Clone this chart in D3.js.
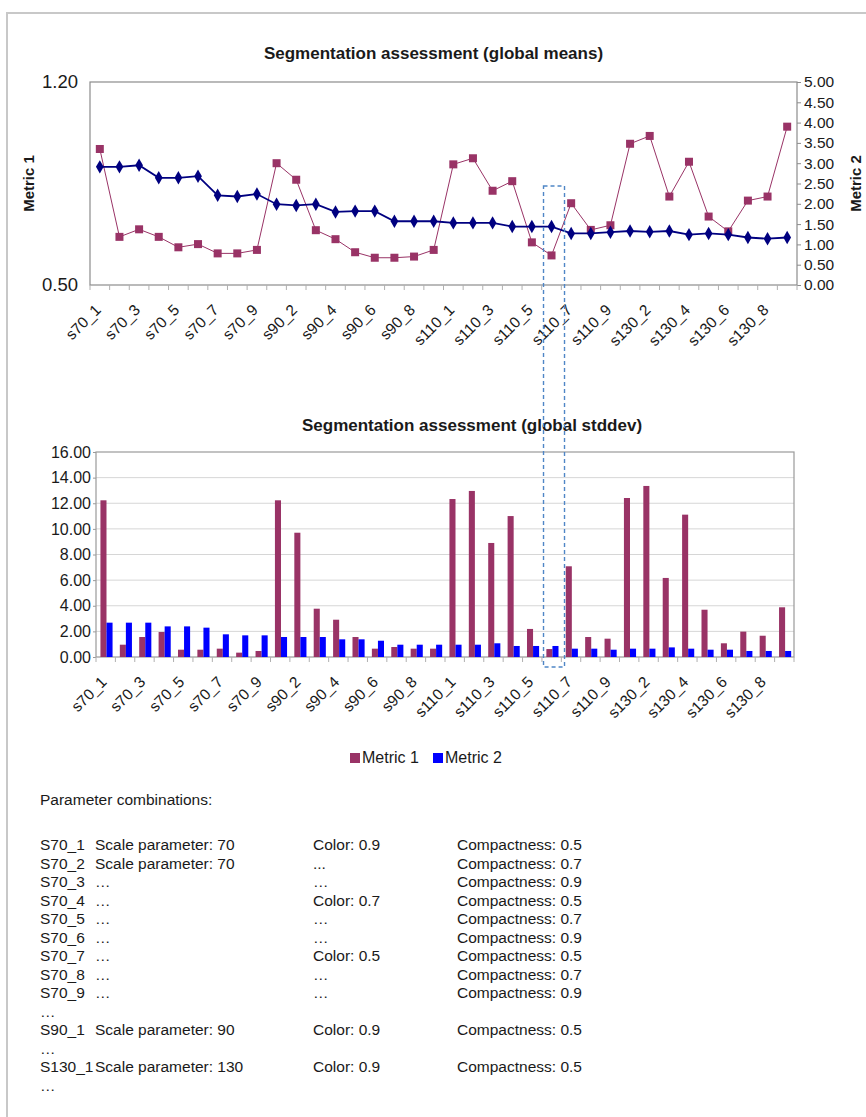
<!DOCTYPE html>
<html>
<head>
<meta charset="utf-8">
<script src="https://cdn.jsdelivr.net/npm/d3@7"></script>
<style>
  body { margin: 0; background: #fff; }
  svg { display: block; }
  text { font-family: Arial, "Liberation Sans", sans-serif; fill: #1a1a1a; }
</style>
</head>
<body>
<svg id="chart"></svg>
<script>
const categories = [
  "s70_1", "s70_2", "s70_3", "s70_4", "s70_5", "s70_6", "s70_7", "s70_8", "s70_9",
  "s90_1", "s90_2", "s90_3", "s90_4", "s90_5", "s90_6", "s90_7", "s90_8", "s90_9",
  "s110_1", "s110_2", "s110_3", "s110_4", "s110_5", "s110_6", "s110_7", "s110_8", "s110_9",
  "s130_1", "s130_2", "s130_3", "s130_4", "s130_5", "s130_6", "s130_7", "s130_8", "s130_9"
];
const highlighted = "s110_6";

// global means: Metric 1 on the left axis, Metric 2 on the right axis
const meansMetric1 = [
  0.969, 0.666, 0.692, 0.666, 0.630, 0.641, 0.609, 0.609, 0.621,
  0.920, 0.863, 0.689, 0.658, 0.613, 0.594, 0.594, 0.598, 0.621,
  0.916, 0.937, 0.825, 0.858, 0.647, 0.602, 0.782, 0.690, 0.706,
  0.987, 1.014, 0.805, 0.925, 0.736, 0.685, 0.791, 0.805, 1.046
];
const meansMetric2 = [
  2.91, 2.91, 2.95, 2.64, 2.64, 2.68, 2.21, 2.18, 2.24,
  1.99, 1.96, 1.99, 1.80, 1.82, 1.82, 1.57, 1.57, 1.57,
  1.53, 1.53, 1.53, 1.44, 1.44, 1.44, 1.27, 1.27, 1.30,
  1.33, 1.31, 1.33, 1.24, 1.27, 1.24, 1.17, 1.14, 1.17
];

// global stddev
const stddevMetric1 = [
  12.23, 0.96, 1.56, 1.95, 0.57, 0.57, 0.65, 0.34, 0.47,
  12.23, 9.70, 3.77, 2.91, 1.56, 0.65, 0.78, 0.65, 0.65,
  12.33, 12.96, 8.90, 11.00, 2.19, 0.62, 7.08, 1.56, 1.43,
  12.41, 13.35, 6.17, 11.11, 3.69, 1.07, 1.98, 1.66, 3.88
];
const stddevMetric2 = [
  2.68, 2.68, 2.68, 2.39, 2.39, 2.29, 1.77, 1.69, 1.69,
  1.56, 1.56, 1.56, 1.38, 1.38, 1.27, 0.96, 0.96, 0.96,
  0.96, 0.96, 1.07, 0.86, 0.86, 0.86, 0.65, 0.65, 0.57,
  0.65, 0.65, 0.75, 0.65, 0.57, 0.57, 0.47, 0.47, 0.47
];

const leftTicks = [0.5, 1.2];
const rightTicks = [0, 0.5, 1, 1.5, 2, 2.5, 3, 3.5, 4, 4.5, 5];
const stddevTicks = [0, 2, 4, 6, 8, 10, 12, 14, 16];
const seriesNames = ["Metric 1", "Metric 2"];
const titles = ["Segmentation assessment (global means)", "Segmentation assessment (global stddev)"];

const paramHeading = "Parameter combinations:";
const paramRows = [
  ["S70_1", "Scale parameter: 70", "Color: 0.9", "Compactness: 0.5"],
  ["S70_2", "Scale parameter: 70", "...", "Compactness: 0.7"],
  ["S70_3", "\u2026", "\u2026", "Compactness: 0.9"],
  ["S70_4", "\u2026", "Color: 0.7", "Compactness: 0.5"],
  ["S70_5", "\u2026", "\u2026", "Compactness: 0.7"],
  ["S70_6", "\u2026", "\u2026", "Compactness: 0.9"],
  ["S70_7", "\u2026", "Color: 0.5", "Compactness: 0.5"],
  ["S70_8", "\u2026", "\u2026", "Compactness: 0.7"],
  ["S70_9", "\u2026", "\u2026", "Compactness: 0.9"],
  ["\u2026"],
  ["S90_1", "Scale parameter: 90", "Color: 0.9", "Compactness: 0.5"],
  ["\u2026"],
  ["S130_1", "Scale parameter: 130", "Color: 0.9", "Compactness: 0.5"],
  ["\u2026"]
];

const maroon = "#993366";
const navy = "#000080";
const blue = "#0000ff";

const width = 866;
const height = 1117;
const top1 = { left: 90, right: 797, top: 82, bottom: 285 };
const top2 = { left: 96, right: 794, top: 452, bottom: 657 };

const svg = d3.select("#chart").attr("width", width).attr("height", height);

svg.append("rect")
  .attr("x", 7).attr("y", 13)
  .attr("width", width + 10).attr("height", height + 10)
  .attr("fill", "#fff")
  .attr("stroke", "#c8c8c8")
  .attr("stroke-width", 2);

function appendCategoryTicks(g, x, box) {
  const edges = categories.map((c) => x(c)).concat([x.range()[1]]);
  g.append("g")
    .selectAll("line")
    .data(edges)
    .join("line")
    .attr("x1", (d) => d).attr("x2", (d) => d)
    .attr("y1", box.bottom).attr("y2", box.bottom + 5)
    .attr("stroke", "#b0b0b0");

  g.append("g")
    .selectAll("text")
    .data(categories.filter((_, i) => i % 2 === 0))
    .join("text")
    .attr("transform", (d) => `translate(${x(d) + x.bandwidth() / 2 + 2}, ${box.bottom + 26}) rotate(-45)`)
    .attr("text-anchor", "end")
    .attr("font-size", 15.5)
    .text((d) => d);
}

// ---------- chart 1: global means ----------
const g1 = svg.append("g");
const x1 = d3.scaleBand().domain(categories).range([top1.left, top1.right]);
const yLeft = d3.scaleLinear().domain([0.5, 1.2]).range([top1.bottom, top1.top]);
const yRight = d3.scaleLinear().domain([0, 5]).range([top1.bottom, top1.top]);
const cx1 = (c) => x1(c) + x1.bandwidth() / 2;

g1.append("rect")
  .attr("x", top1.left).attr("y", top1.top)
  .attr("width", top1.right - top1.left).attr("height", top1.bottom - top1.top)
  .attr("fill", "none").attr("stroke", "#8c8c8c").attr("stroke-width", 1.2);

g1.append("text")
  .attr("x", (top1.left + top1.right) / 2 - 10).attr("y", 59)
  .attr("text-anchor", "middle")
  .attr("font-size", 17).attr("font-weight", "bold")
  .text(titles[0]);

g1.append("g")
  .attr("transform", `translate(${top1.left},0)`)
  .call(d3.axisLeft(yLeft).tickValues(leftTicks).tickFormat(d3.format(".2f")).tickSize(0).tickPadding(12))
  .call((a) => a.select(".domain").remove())
  .call((a) => a.selectAll("text").attr("font-size", 18.5).attr("font-family", null));

g1.append("g")
  .attr("transform", `translate(${top1.right},0)`)
  .call(d3.axisRight(yRight).tickValues(rightTicks).tickFormat(d3.format(".2f")).tickSize(4).tickPadding(3))
  .call((a) => a.select(".domain").remove())
  .call((a) => a.selectAll("line").attr("stroke", "#8c8c8c"))
  .call((a) => a.selectAll("text").attr("font-size", 15.5).attr("font-family", null));

g1.append("text")
  .attr("transform", `translate(34, ${(top1.top + top1.bottom) / 2}) rotate(-90)`)
  .attr("text-anchor", "middle")
  .attr("font-size", 15).attr("font-weight", "bold")
  .text(seriesNames[0]);

g1.append("text")
  .attr("transform", `translate(861, ${(top1.top + top1.bottom) / 2}) rotate(-90)`)
  .attr("text-anchor", "middle")
  .attr("font-size", 15).attr("font-weight", "bold")
  .text(seriesNames[1]);

appendCategoryTicks(g1, x1, top1);

const line1 = d3.line().x((d, i) => cx1(categories[i])).y((d) => yLeft(d));
const line2 = d3.line().x((d, i) => cx1(categories[i])).y((d) => yRight(d));

g1.append("path")
  .attr("d", line1(meansMetric1))
  .attr("fill", "none").attr("stroke", maroon).attr("stroke-width", 1);

g1.append("g")
  .selectAll("rect")
  .data(meansMetric1)
  .join("rect")
  .attr("x", (d, i) => cx1(categories[i]) - 4)
  .attr("y", (d) => yLeft(d) - 4)
  .attr("width", 8).attr("height", 8)
  .attr("fill", maroon);

g1.append("path")
  .attr("d", line2(meansMetric2))
  .attr("fill", "none").attr("stroke", navy).attr("stroke-width", 1.8);

g1.append("g")
  .selectAll("path")
  .data(meansMetric2)
  .join("path")
  .attr("d", d3.symbol().type(d3.symbolDiamond).size(52))
  .attr("transform", (d, i) => `translate(${cx1(categories[i])},${yRight(d)})`)
  .attr("fill", navy);

// ---------- chart 2: global stddev ----------
const g2 = svg.append("g");
const x2 = d3.scaleBand().domain(categories).range([top2.left, top2.right]);
const xInner = d3.scaleBand().domain(seriesNames).range([0, x2.bandwidth()]).paddingOuter(0.6);
const y2 = d3.scaleLinear().domain([0, 16]).range([top2.bottom, top2.top]);

g2.append("g")
  .selectAll("line")
  .data(stddevTicks.slice(1, -1))
  .join("line")
  .attr("x1", top2.left).attr("x2", top2.right)
  .attr("y1", (d) => y2(d)).attr("y2", (d) => y2(d))
  .attr("stroke", "#d6d6d6");

g2.append("rect")
  .attr("x", top2.left).attr("y", top2.top)
  .attr("width", top2.right - top2.left).attr("height", top2.bottom - top2.top)
  .attr("fill", "none").attr("stroke", "#9a9a9a").attr("stroke-width", 1.2);

g2.append("text")
  .attr("x", 472).attr("y", 431)
  .attr("text-anchor", "middle")
  .attr("font-size", 17).attr("font-weight", "bold")
  .text(titles[1]);

g2.append("g")
  .attr("transform", `translate(${top2.left},0)`)
  .call(d3.axisLeft(y2).tickValues(stddevTicks).tickFormat(d3.format(".2f")).tickSize(3).tickPadding(2))
  .call((a) => a.select(".domain").remove())
  .call((a) => a.selectAll("line").attr("stroke", "#9a9a9a"))
  .call((a) => a.selectAll("text").attr("font-size", 16).attr("font-family", null));

const barData = categories.flatMap((c, i) => [
  { cat: c, key: seriesNames[0], value: stddevMetric1[i], color: maroon },
  { cat: c, key: seriesNames[1], value: stddevMetric2[i], color: blue }
]);

g2.append("g")
  .selectAll("rect")
  .data(barData)
  .join("rect")
  .attr("x", (d) => x2(d.cat) + xInner(d.key) + 0.8)
  .attr("y", (d) => y2(d.value))
  .attr("width", xInner.bandwidth())
  .attr("height", (d) => y2(0) - y2(d.value))
  .attr("fill", (d) => d.color);

appendCategoryTicks(g2, x2, top2);

// legend
const legend = g2.append("g").attr("transform", "translate(350,753)");
const legendItem = legend.selectAll("g")
  .data(seriesNames)
  .join("g")
  .attr("transform", (d, i) => `translate(${i * 83},0)`);
legendItem.append("rect")
  .attr("width", 10).attr("height", 10)
  .attr("fill", (d, i) => (i === 0 ? maroon : blue));
legendItem.append("text")
  .attr("x", 12).attr("y", 10)
  .attr("font-size", 16)
  .text((d) => d);

// dashed highlight across both charts
const hx = x1(highlighted) + x1.bandwidth() / 2;
svg.append("rect")
  .attr("x", hx - 8).attr("y", yRight(2.44))
  .attr("width", 21).attr("height", top2.bottom + 10 - yRight(2.44))
  .attr("fill", "none")
  .attr("stroke", "#4f86c6").attr("stroke-width", 1.4)
  .attr("stroke-dasharray", "4,3");

// ---------- parameter text ----------
const notes = svg.append("g");
const colX = [40, 95, 313, 457];
const rowStep = 18.5;
notes.append("text")
  .attr("x", colX[0]).attr("y", 805)
  .attr("font-size", 15.5)
  .text(paramHeading);

const rows = notes.selectAll("g.row")
  .data(paramRows)
  .join("g")
  .attr("class", "row")
  .attr("transform", (d, i) => `translate(0, ${850 + i * rowStep})`);

rows.selectAll("text")
  .data((d) => d)
  .join("text")
  .attr("x", (d, i) => colX[i])
  .attr("font-size", 15.5)
  .attr("fill", (d) => (d.startsWith("\u2026") || d === "..." ? "#666" : "#1a1a1a"))
  .text((d) => d);
</script>
</body>
</html>
